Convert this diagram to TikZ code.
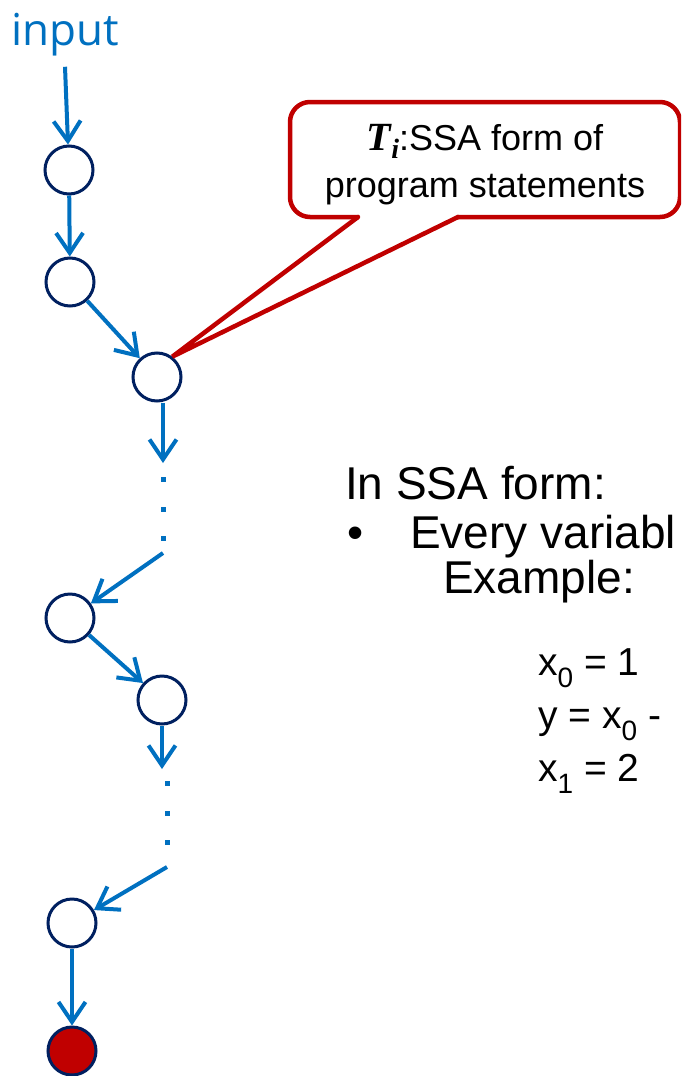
\documentclass[tikz,border=0pt]{standalone}
\usepackage{fontspec}
\setmainfont{Liberation Sans}
\newfontfamily\fontinput{Open Sans}
\newfontfamily\fontserif{Liberation Serif}
\usetikzlibrary{arrows.meta}
\definecolor{blu}{HTML}{0070C0}
\definecolor{navy}{HTML}{002060}
\definecolor{rosso}{HTML}{C00000}
\newcommand{\pedice}[1]{\raisebox{-12pt}{\fontsize{28}{28}\selectfont #1}}

\begin{document}
\begin{tikzpicture}[x=1pt,y=-1pt,
        nodo/.style={circle,draw=navy,line width=3pt,fill=white,minimum size=48pt,inner sep=0pt},
        freccia/.style={blu,line width=4pt,-{Straight Barb[length=20pt,width=27pt]}},
        testo/.style={anchor=base west,inner sep=0pt,font=\fontsize{46}{55}\selectfont},
        codice/.style={anchor=base west,inner sep=0pt,font=\fontsize{39}{47}\selectfont}]
        %area del disegno
        \useasboundingbox (0,0) rectangle (681,1076);
        \clip (0,0) rectangle (681,1076);

        %scrivo input
        \node[blu,anchor=base,inner sep=0pt,font=\fontinput\fontsize{44}{44}\selectfont] (input) at (65,45) {input};

        %disegno i nodi
        \node[nodo] (c1) at (69,170) {};
        \node[nodo] (c2) at (70,282) {};
        \node[nodo] (c3) at (157,377) {};
        \node[nodo] (c4) at (70,618) {};
        \node[nodo] (c5) at (162,700) {};
        \node[nodo] (c6) at (72,923) {};
        \node[nodo,fill=rosso] (fine) at (72,1051) {};

        %estremi dei tratti omessi
        \coordinate (d1) at (163,463);
        \coordinate (d2) at (163,553);
        \coordinate (d3) at (162,769);
        \coordinate (d4) at (167,867);

        %frecce
        \draw[freccia] ([yshift=-11pt]input.south) -- (c1);
        \draw[freccia] (c1) -- (c2);
        \draw[freccia] (c2) -- (c3);
        \draw[freccia] (c3.south -| d1) -- (d1);
        \draw[freccia] (d2) -- (c4);
        \draw[freccia] (c4) -- (c5);
        \draw[freccia] (c5) -- (d3);
        \draw[freccia] (d4) -- (c6);
        \draw[freccia] (c6) -- (fine);

        %puntini
        \foreach \y in {479,509,538}
            \fill[blu] (160.5,\y-2.5) rectangle ++(5,5);
        \foreach \y in {783,813,842}
            \fill[blu] (164.5,\y-2.5) rectangle ++(5,5);

        %nota con puntatore
        \node[draw=rosso,line width=4.5pt,rounded corners=20pt,minimum width=390pt,minimum height=115pt,
              align=center,inner sep=0pt,font=\fontsize{36}{47}\selectfont] (nota) at (485,159.5)
              {\rule{0pt}{37pt}{\fontserif\bfseries\itshape\fontsize{40}{40}\selectfont T\raisebox{-8pt}{\fontsize{28}{28}\selectfont i}}:SSA form of\\program statements};
        \coordinate (b1) at (358,217);
        \coordinate (b2) at (458,217);
        \fill[white] (359,213) rectangle (457,221);
        \draw[rosso,line width=4.5pt,line cap=round] (b1) -- (c3.53) -- (b2);

        %testo a destra
        \node[testo] (titolo) at (345,499) {In SSA form:};
        \node[testo] (punto) at (347,548) {\textbullet};
        \node[testo] (voce) at (410,548) {Every variabl};
        \node[testo] (esempio) at (443,593) {Example:};
        \node[codice] (riga1) at (538,675) {x\pedice{0} = 1};
        \node[codice] (riga2) at (538,728) {y = x\pedice{0} -};
        \node[codice] (riga3) at (538,781) {x\pedice{1} = 2};
\end{tikzpicture}
\end{document}
